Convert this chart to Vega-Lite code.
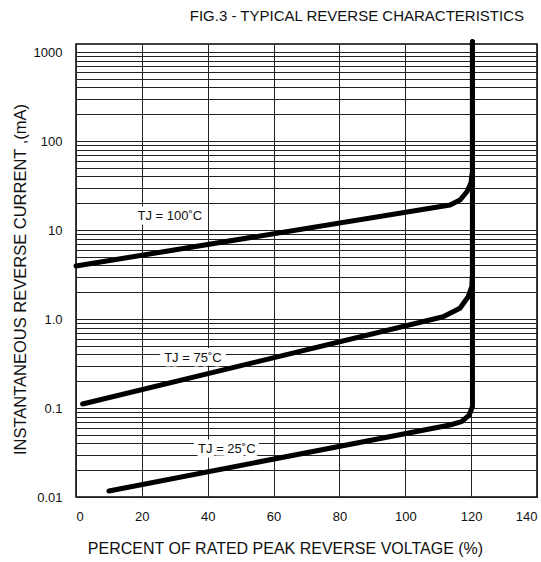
{
  "$schema": "https://vega.github.io/schema/vega-lite/v6.json",
  "autosize": "none",
  "width": 461,
  "height": 453,
  "padding": {"left": 76, "top": 44, "right": 4, "bottom": 65},
  "background": "white",
  "config": {
    "font": "Liberation Sans",
    "view": {"stroke": "black", "strokeWidth": 1.5}
  },
  "title": {
    "text": "FIG.3 - TYPICAL REVERSE CHARACTERISTICS",
    "fontSize": 15,
    "fontWeight": "normal",
    "color": "#111",
    "anchor": "end",
    "frame": "group",
    "dx": -13,
    "offset": 15
  },
  "datasets": {
    "curves": [
      {"tj": "100", "k": 0, "v": 0, "i": 3.94},
      {"tj": "100", "k": 1, "v": 113.6, "i": 19.1},
      {"tj": "100", "k": 2, "v": 116.6, "i": 21.7},
      {"tj": "100", "k": 3, "v": 118.7, "i": 26.9},
      {"tj": "100", "k": 4, "v": 119.9, "i": 33.5},
      {"tj": "100", "k": 5, "v": 120.4, "i": 45},
      {"tj": "100", "k": 6, "v": 120.4, "i": 1300},
      {"tj": "75", "k": 0, "v": 2.0, "i": 0.111},
      {"tj": "75", "k": 1, "v": 111.5, "i": 1.06},
      {"tj": "75", "k": 2, "v": 116.6, "i": 1.32},
      {"tj": "75", "k": 3, "v": 119.1, "i": 1.78},
      {"tj": "75", "k": 4, "v": 120.2, "i": 2.31},
      {"tj": "75", "k": 5, "v": 120.4, "i": 3.2},
      {"tj": "75", "k": 6, "v": 120.4, "i": 1300},
      {"tj": "25", "k": 0, "v": 10, "i": 0.0117},
      {"tj": "25", "k": 1, "v": 113.6, "i": 0.0644},
      {"tj": "25", "k": 2, "v": 117.1, "i": 0.0702},
      {"tj": "25", "k": 3, "v": 119.4, "i": 0.0834},
      {"tj": "25", "k": 4, "v": 120.4, "i": 0.1035},
      {"tj": "25", "k": 5, "v": 120.4, "i": 1300}
    ],
    "labels": [
      {"label": "TJ = 100˚C", "v": 28.5, "i": 14.4},
      {"label": "TJ = 75˚C", "v": 35.5, "i": 0.362},
      {"label": "TJ = 25˚C", "v": 45.8, "i": 0.0344}
    ]
  },
  "layer": [
    {
      "data": {"name": "curves"},
      "mark": {"type": "line", "stroke": "black", "strokeWidth": 5, "strokeCap": "round", "strokeJoin": "round"},
      "encoding": {
        "x": {
          "field": "v", "type": "quantitative",
          "scale": {"domain": [0, 140], "nice": false, "zero": false},
          "axis": {
            "values": [0, 20, 40, 60, 80, 100, 120, 140],
            "grid": true, "gridColor": "#222", "gridWidth": 1, "gridOpacity": 1,
            "domain": false, "ticks": false,
            "labelFontSize": 13, "labelColor": "#111", "labelPadding": 13, "labelFlush": true,
            "title": "PERCENT OF RATED PEAK REVERSE VOLTAGE  (%)",
            "titleFontSize": 16, "titleFontWeight": "normal", "titleColor": "#111",
            "titleX": 209, "titleY": 51, "titleAlign": "center", "titleBaseline": "middle"
          }
        },
        "y": {
          "field": "i", "type": "quantitative",
          "scale": {"type": "log", "domain": [0.01, 1230], "nice": false},
          "axis": {
            "values": [0.01, 0.02, 0.03, 0.04, 0.05, 0.06, 0.07, 0.08, 0.09, 0.1, 0.2, 0.3, 0.4, 0.5, 0.6, 0.7, 0.8, 0.9, 1, 2, 3, 4, 5, 6, 7, 8, 9, 10, 20, 30, 40, 50, 60, 70, 80, 90, 100, 200, 300, 400, 500, 600, 700, 800, 900, 1000],
            "grid": true, "gridColor": "#222", "gridWidth": 1, "gridOpacity": 1,
            "domain": false, "ticks": false,
            "labelOverlap": false, "labelFlush": false,
            "labelExpr": "abs(log(datum.value)/LN10 - round(log(datum.value)/LN10)) < 0.001 ? (round(log(datum.value)/LN10) == 0 ? '1.0' : (datum.value >= 1 ? format(datum.value, 'd') : format(datum.value, '.2~f'))) : ''",
            "labelFontSize": 13, "labelColor": "#111", "labelPadding": 14,
            "title": "INSTANTANEOUS REVERSE CURRENT ,(mA)",
            "titleFontSize": 16.5, "titleFontWeight": "normal", "titleColor": "#111",
            "titleX": -56, "titleY": 235, "titleAngle": 270, "titleAlign": "center", "titleBaseline": "middle"
          }
        },
        "detail": {"field": "tj"},
        "order": {"field": "k"}
      }
    },
    {
      "data": {"name": "labels"},
      "mark": {"type": "text", "fontSize": 13, "fill": "white", "stroke": "white", "strokeWidth": 9, "strokeJoin": "round"},
      "encoding": {
        "x": {"field": "v", "type": "quantitative"},
        "y": {"field": "i", "type": "quantitative"},
        "text": {"field": "label"}
      }
    },
    {
      "data": {"name": "labels"},
      "mark": {"type": "text", "fontSize": 13, "color": "#111"},
      "encoding": {
        "x": {"field": "v", "type": "quantitative"},
        "y": {"field": "i", "type": "quantitative"},
        "text": {"field": "label"}
      }
    }
  ]
}
